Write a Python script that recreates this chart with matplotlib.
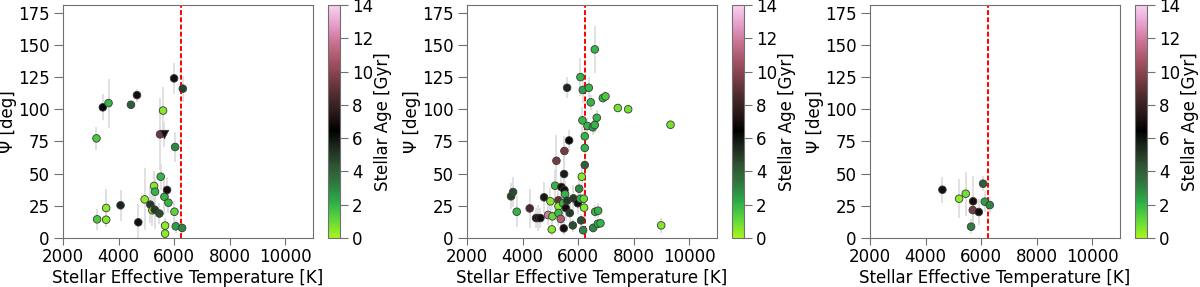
import matplotlib
matplotlib.use("Agg")
import matplotlib.pyplot as plt
import numpy as np
from matplotlib.colors import LinearSegmentedColormap

# colour map: young (yellow-green) -> black -> old (pink)
age_colors = ['#a6f51c', '#5fd83a', '#2cae48', '#2f7a40', '#2f5534', '#1e2b1e',
              '#000000', '#2a1a1a', '#4f2c2e', '#7e3e47', '#a8566a', '#cc7496',
              '#e7a2cf', '#f8d2f0']
cmap = LinearSegmentedColormap.from_list('age', age_colors)

# panel 1
teff1 = [3205, 3229, 3554, 3554, 3434, 3639, 4072, 4446, 4663, 4711, 4940, 5145,
         5217, 5301, 5277, 5313, 5470, 5518, 5494, 5602, 5651, 5675, 5675, 5747,
         5795, 6000, 6012, 6036, 6060, 6289, 6313]
psi1 = [77.4, 14.5, 23.3, 14.2, 101.5, 104.8, 25.4, 103.5, 111, 12.2, 30, 25.9,
        21.5, 22, 40.4, 36, 19, 47.6, 80.5, 99, 32, 9.6, 3.4, 37.3,
        27.4, 124, 20.4, 70.7, 9.1, 7.8, 116]
err1 = [9, 8, 15, 6, 10, 19, 12, 3, 5, 14, 24, 14,
        12, 15, 12, 10, 8, 10, 28, 18, 14, 6, 3, 10,
        8, 12, 8, 12, 5, 4, 10]
age1 = [1.5, 1.5, 0.4, 0.6, 6.3, 2.0, 5.5, 4.0, 7.0, 7.0, 0.4, 5.0,
        0.4, 5.0, 0.5, 2.0, 4.5, 2.0, 9.3, 0.5, 2.0, 0.4, 0.4, 7.0,
        2.0, 7.0, 1.2, 3.0, 2.5, 3.0, 4.8]
# upper limit (triangle)
teff1_lim = [5627]
psi1_lim = [80.5]
err1_lim = [10]
age1_lim = [7.0]

# panel 2
teff2 = [3586, 3658, 3790, 4258, 4486, 4559, 4643, 4775, 4919, 5003, 5051, 5075,
         5171, 5219, 5291, 5291, 5291, 5375, 5399, 5459, 5483, 5495, 5507, 5507,
         5531, 5556, 5604, 5604, 5676, 5700, 5808, 5832, 5988, 6036, 6084, 6084,
         6108, 6132, 6156, 6168, 6180, 6204, 6216, 6240, 6240, 6240, 6336, 6384,
         6456, 6528, 6541, 6600, 6613, 6673, 6721, 6709, 6805, 6600, 6889, 6985,
         7429, 7802, 9327, 8991]
psi2 = [32.4, 35.7, 20.4, 23, 15.5, 15.5, 15.5, 31.6, 17.9, 28.5, 6.7, 16.8,
        40.6, 60, 29.3, 24.6, 19.4, 14.8, 39.6, 27, 7.5, 49.7, 67.6, 37.3,
        34, 23.3, 29, 116.7, 75.8, 19.4, 9.8, 30.8, 27, 38.3, 125, 30.5,
        13.7, 47.6, 91.4, 115, 6, 30.5, 23.6, 56.7, 70, 79, 87, 116.7,
        105.4, 86, 7.8, 87.8, 20.4, 93.4, 21.2, 11.1, 11.4, 146.5, 108.7, 110,
        101, 100, 88, 9.8]
err2 = [10, 12, 12, 15, 8, 10, 8, 12, 8, 10, 5, 10,
        12, 20, 12, 10, 10, 8, 12, 10, 5, 25, 12, 10,
        10, 10, 10, 8, 8, 10, 5, 10, 8, 10, 15, 8,
        5, 10, 10, 10, 4, 8, 8, 8, 8, 8, 6, 8,
        6, 6, 4, 6, 5, 6, 6, 4, 4, 18, 4, 4,
        3, 3, 3, 6]
age2 = [4.8, 4.5, 2.0, 8.5, 7.0, 7.0, 7.0, 5.8, 12.0, 0.5, 0.5, 1.0,
        2.0, 9.5, 9.0, 0.5, 1.8, 11.0, 7.0, 2.0, 7.0, 5.7, 9.5, 7.0,
        2.0, 7.0, 5.0, 5.5, 6.3, 5.0, 4.5, 5.0, 7.0, 3.0, 2.0, 2.0,
        4.5, 0.5, 2.0, 2.5, 3.0, 1.0, 0.5, 4.0, 2.0, 2.0, 2.0, 2.0,
        2.0, 2.5, 3.0, 2.0, 2.0, 2.0, 2.0, 2.0, 2.0, 2.0, 2.0, 1.5,
        0.8, 0.8, 0.8, 0.6]

# panel 3
teff3 = [4607, 5207, 5447, 5712, 5700, 5916, 6072, 6132, 6312, 5640]
psi3 = [37.5, 30.5, 34.4, 28.5, 21.7, 20.2, 42.2, 28.2, 25.6, 8.8]
err3 = [10, 15, 17, 20, 12, 10, 6, 8, 6, 6]
age3 = [7.0, 0.4, 0.8, 7.0, 9.5, 7.0, 4.0, 2.5, 3.0, 3.2]

kraft_break = 6250
xticks = [2000, 4000, 6000, 8000, 10000]
cbar_ticks = [0, 2, 4, 6, 8, 10, 12, 14]

plt.rcParams['font.size'] = 12
fig = plt.figure(figsize=(12, 2.87), dpi=100)

panels = [(teff1, psi1, err1, age1), (teff2, psi2, err2, age2), (teff3, psi3, err3, age3)]
lefts = [63, 467, 870]
for i, (t, p, e, a) in enumerate(panels):
    ax = fig.add_axes([lefts[i] / 1200, 49 / 287, 250 / 1200, 233 / 287])
    cax = fig.add_axes([(lefts[i] + 265) / 1200, 49 / 287, 12 / 1200, 233 / 287])
    ax.errorbar(t, p, yerr=e, fmt='none', ecolor='#dcdcdc', elinewidth=1.2, zorder=1)
    sc = ax.scatter(t, p, c=a, cmap=cmap, vmin=0, vmax=14, s=30,
                    edgecolors='#3a3a3a', linewidths=0.6, zorder=3)
    if i == 0:
        ax.errorbar(teff1_lim, psi1_lim, yerr=err1_lim, fmt='none', ecolor='#dcdcdc',
                    elinewidth=1.2, zorder=1)
        ax.scatter(teff1_lim, psi1_lim, c=age1_lim, cmap=cmap, vmin=0, vmax=14,
                   marker='v', s=36, edgecolors='#3a3a3a', linewidths=0.6, zorder=3)
    ax.axvline(kraft_break, color='red', linestyle='--', dashes=(2.5, 1.2), lw=1.4, zorder=2)
    ax.set_xlim(2000, 11000)
    ax.set_ylim(0, 181)
    ax.set_xticks(xticks)
    ax.set_yticks(np.arange(0, 176, 25))
    ax.set_xlabel('Stellar Effective Temperature [K]', labelpad=2)
    ax.set_ylabel('Ψ [deg]', labelpad=1)
    for sp in ax.spines.values():
        sp.set_color('#707070')
    ax.tick_params(axis='y', length=6.5, pad=3, color='#707070')
    ax.tick_params(axis='x', length=5, pad=2.5, color='#707070')

    cb = fig.colorbar(sc, cax=cax)
    cb.set_ticks(cbar_ticks)
    cb.set_label('Stellar Age [Gyr]', labelpad=1)
    cb.outline.set_edgecolor('#707070')
    cax.tick_params(length=6, pad=2.5, color='#707070')

fig.savefig('out.png', dpi=100)
